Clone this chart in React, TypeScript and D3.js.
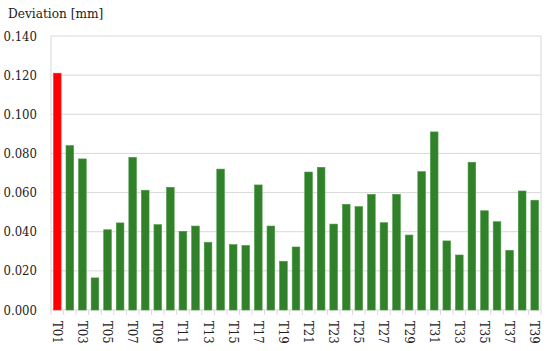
import * as d3 from "d3";

const categories: string[] = Array.from({ length: 39 }, (_, i) => `T${String(i + 1).padStart(2, "0")}`);
const deviation: number[] = [
  0.121, 0.084, 0.0772, 0.0164, 0.041, 0.0445, 0.078, 0.0612, 0.0436, 0.0627,
  0.0402, 0.0429, 0.0346, 0.072, 0.0334, 0.033, 0.0639, 0.0429, 0.0249, 0.0322,
  0.0705, 0.0729, 0.0439, 0.054, 0.0528, 0.0591, 0.0446, 0.0591, 0.0383, 0.0707,
  0.091, 0.0353, 0.0281, 0.0755, 0.0507, 0.0451, 0.0305, 0.0608, 0.0561,
];
const yTicks: number[] = [0, 0.02, 0.04, 0.06, 0.08, 0.1, 0.12, 0.14];

const W = 550;
const H = 351;
const margin = { top: 36, right: 9, bottom: 41, left: 51 };
const font = "'DejaVu Serif Condensed', 'DejaVu Serif', serif";

export default function App() {
  const innerW = W - margin.left - margin.right;
  const innerH = H - margin.top - margin.bottom;

  const x = d3.scaleBand<string>().domain(categories).range([0, innerW]).paddingInner(0.39).paddingOuter(0.195);
  const y = d3.scaleLinear().domain([0, 0.14]).range([innerH, 0]);
  const step = x.step();

  const textStyle = { fontFamily: font, fontStretch: "condensed" };

  return (
    <svg width={W} height={H} style={{ position: "absolute", left: 0, top: 0, background: "#fff" }}>
      <text x={8} y={18} style={textStyle} fontSize={13.5} fill="#222">Deviation [mm]</text>
      <g transform={`translate(${margin.left},${margin.top})`}>
        {yTicks.map((t) => (
          <g key={t}>
            <line x1={0} x2={innerW} y1={y(t)} y2={y(t)} stroke="#d9d9d9" strokeWidth={1} />
            <text x={-14} y={y(t)} dy="0.35em" textAnchor="end" style={textStyle} fontSize={13} fill="#222">
              {d3.format(".3f")(t)}
            </text>
          </g>
        ))}
        <line x1={0} x2={0} y1={0} y2={innerH} stroke="#d9d9d9" />
        <line x1={innerW} x2={innerW} y1={0} y2={innerH} stroke="#d9d9d9" />
        {categories.map((c, i) => (
          <line key={"tk" + c} x1={i * step} x2={i * step} y1={innerH} y2={innerH + 5} stroke="#d9d9d9" />
        ))}
        <line x1={innerW} x2={innerW} y1={innerH} y2={innerH + 5} stroke="#d9d9d9" />
        {categories.map((c, i) => (
          <rect
            key={c}
            x={x(c)}
            y={y(deviation[i])}
            width={x.bandwidth()}
            height={innerH - y(deviation[i])}
            fill={i === 0 ? "#ff0000" : "#31802a"}
            stroke={i === 0 ? "#ff3030" : "#4a9a44"}
            strokeWidth={0.6}
          />
        ))}
        {categories.map((c, i) =>
          i % 2 === 0 ? (
            <text
              key={"lb" + c}
              transform={`translate(${(x(c) ?? 0) + x.bandwidth() / 2},${innerH + 11}) rotate(90)`}
              dominantBaseline="central"
              style={textStyle}
              fontSize={13}
              fill="#222"
            >
              {c}
            </text>
          ) : null
        )}
      </g>
    </svg>
  );
}
